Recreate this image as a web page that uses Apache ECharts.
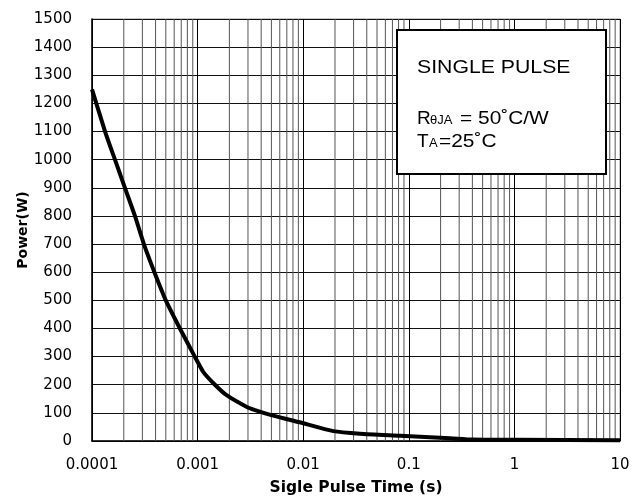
<!DOCTYPE html>
<html>
<head>
<meta charset="utf-8">
<script src="https://cdn.jsdelivr.net/npm/echarts@6/dist/echarts.min.js"></script>
<style>html,body{margin:0;padding:0;background:#fff;}#c{width:644px;height:497px;}</style>
</head>
<body>
<div id="c"></div>
<script>
// Data
const pulseTimes = [0.0001, 0.000133, 0.000165, 0.000205, 0.000255, 0.00031, 0.00039, 0.0005, 0.00068, 0.00094, 0.00113, 0.00146, 0.00188, 0.0029, 0.0035, 0.005, 0.01, 0.0193, 0.0345, 0.083, 0.245, 0.4, 1, 10];
const powerW     = [1250, 1100, 1000, 900, 800, 700, 600, 500, 400, 300, 246, 200, 163, 122, 110, 92, 63, 35, 26, 19, 10, 5, 4, 3];
const xTickLabels = ['0.0001', '0.001', '0.01', '0.1', '1', '10'];
const minorMultipliers = [2, 3, 4, 5, 6, 7, 8, 9];
const decades = [0.0001, 0.001, 0.01, 0.1, 1];

const minorValues = [];
decades.forEach(d => minorMultipliers.forEach(m => minorValues.push(+(d * m).toPrecision(3))));

const minorSeries = minorValues.map(v => ({
  type: 'line', silent: true, z: 1, showSymbol: false,
  data: [[v, 0], [v, 1500]],
  lineStyle: { color: '#555', width: 1 }
}));

const chart = echarts.init(document.getElementById('c'), null, { renderer: 'canvas' });
const tickFont = 'DejaVu Sans, sans-serif';
chart.setOption({
  animation: false,
  backgroundColor: '#fff',
  grid: { left: 92, right: 24, top: 19, bottom: 56, show: true, borderColor: '#999', borderWidth: 1, containLabel: false, outerBoundsMode: 'none' },
  xAxis: {
    type: 'log', logBase: 10, min: 0.0001, max: 10,
    axisLine: { show: true, lineStyle: { color: '#000', width: 1.5 } },
    axisTick: { show: false },
    splitLine: { show: true, lineStyle: { color: '#000', width: 1 } },
    axisLabel: {
      margin: 17, color: '#000', fontSize: 15, fontFamily: tickFont,
      formatter: v => xTickLabels[Math.round(Math.log10(v)) + 4]
    },
    name: 'Sigle Pulse Time (s)', nameLocation: 'middle', nameGap: 39, nameMoveOverlap: false,
    nameTextStyle: { color: '#000', fontSize: 15.5, fontWeight: 'bold', fontFamily: 'DejaVu Sans, sans-serif' }
  },
  yAxis: {
    type: 'value', min: 0, max: 1500, interval: 100,
    axisLine: { show: true, lineStyle: { color: '#000', width: 1.5 } },
    axisTick: { show: false },
    splitLine: { show: true, lineStyle: { color: '#111', width: 1 } },
    axisLabel: { margin: 20, color: '#000', fontSize: 15, fontFamily: tickFont, formatter: v => String(v) },
    name: 'Power(W)', nameLocation: 'middle', nameGap: 62, nameMoveOverlap: false,
    nameTextStyle: { color: '#000', fontSize: 14, fontWeight: 'bold', fontFamily: 'DejaVu Sans, sans-serif' }
  },
  series: minorSeries.concat([
    {
      type: 'line', z: 5,
      data: pulseTimes.map((t, i) => [t, powerW[i]]),
      showSymbol: false, smooth: 0.2,
      lineStyle: { color: '#000', width: 4, join: 'round' }
    }
  ]),
  graphic: [
    { type: 'rect', z: 10, shape: { x: 397, y: 30, width: 209, height: 144 },
      style: { fill: '#fff', stroke: '#000', lineWidth: 2 } },
    { type: 'text', z: 11, x: 417, y: 77, scaleX: 1.18,
      style: { text: 'SINGLE PULSE', font: '18px "Liberation Sans", Arial, sans-serif', fill: '#000', verticalAlign: 'bottom' } },
    { type: 'text', z: 11, x: 417, y: 128,
      style: { text: 'R', font: '19px "Liberation Sans", Arial, sans-serif', fill: '#000', verticalAlign: 'bottom' } },
    { type: 'text', z: 11, x: 430, y: 127,
      style: { text: 'θJA', font: '13px "Liberation Sans", Arial, sans-serif', fill: '#000', verticalAlign: 'bottom' } },
    { type: 'text', z: 11, x: 460, y: 128, scaleX: 1.1,
      style: { text: '= 50˚C/W', font: '19px "Liberation Sans", Arial, sans-serif', fill: '#000', verticalAlign: 'bottom' } },
    { type: 'text', z: 11, x: 417, y: 151,
      style: { text: 'T', font: '19px "Liberation Sans", Arial, sans-serif', fill: '#000', verticalAlign: 'bottom' } },
    { type: 'text', z: 11, x: 429, y: 150,
      style: { text: 'A', font: '13px "Liberation Sans", Arial, sans-serif', fill: '#000', verticalAlign: 'bottom' } },
    { type: 'text', z: 11, x: 439, y: 151, scaleX: 1.1,
      style: { text: '=25˚C', font: '19px "Liberation Sans", Arial, sans-serif', fill: '#000', verticalAlign: 'bottom' } }
  ]
});
</script>
</body>
</html>
